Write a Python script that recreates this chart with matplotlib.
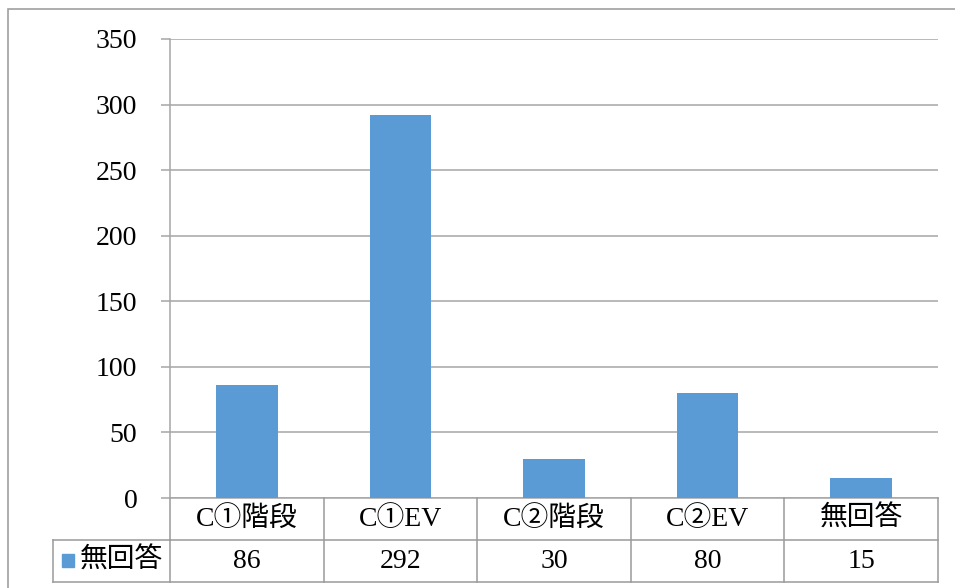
import matplotlib.pyplot as plt
import matplotlib.transforms as mtransforms
from matplotlib.patches import Rectangle

categories = ["C①階段", "C①EV", "C②階段", "C②EV", "無回答"]
values = [86, 292, 30, 80, 15]
series_name = "無回答"
yticks = [0, 50, 100, 150, 200, 250, 300, 350]

plt.rcParams['font.family'] = ['Liberation Serif', 'Noto Sans CJK JP', 'DejaVu Serif']

W, H = 955, 588
fig = plt.figure(figsize=(W / 100, H / 100), dpi=100)

# plot area in pixels: x 170..938, y 39..498
ax = fig.add_axes([170 / W, (H - 498) / H, 768 / W, 459 / H])

bar_color = '#5B9BD5'
grid_color = '#A6A6A6'
line_color = '#9A9A9A'
fs = 20

x = list(range(len(categories)))
ax.bar(x, values, width=0.4, color=bar_color, zorder=3)

ax.set_xlim(-0.5, len(categories) - 0.5)
ax.set_ylim(0, 350)
ax.set_yticks(yticks)
ax.set_yticklabels([str(v) for v in yticks], fontsize=fs)
ax.set_xticks([])
ax.yaxis.grid(True, color=grid_color, linewidth=1.1, zorder=0)
ax.tick_params(axis='y', length=6.5, width=1.1, color=grid_color, pad=17)
for s in ['top', 'right', 'bottom']:
    ax.spines[s].set_visible(False)
ax.spines['left'].set_color(grid_color)
ax.spines['left'].set_linewidth(1.1)

# data table under the axis
trans = mtransforms.blended_transform_factory(ax.transData, ax.transAxes)
row_h = 42 / 459
x0, x1 = -0.5, len(categories) - 0.5
leg_left = -0.5 - (170 - 53) / 153.6
lw = 1.1
kw = dict(transform=trans, color=line_color, linewidth=lw, clip_on=False)

# horizontal lines
ax.plot([x0, x1], [-row_h, -row_h], **kw)
ax.plot([leg_left, x0], [-row_h, -row_h], **kw)
ax.plot([leg_left, x1], [-2 * row_h, -2 * row_h], **kw)
ax.plot([x0, x1], [0, 0], transform=trans, color=grid_color, linewidth=lw, clip_on=False)
# vertical lines
for i in range(len(categories) + 1):
    xv = i - 0.5
    ax.plot([xv, xv], [0, -2 * row_h], **kw)
ax.plot([leg_left, leg_left], [-row_h, -2 * row_h], **kw)

for i, (c, v) in enumerate(zip(categories, values)):
    ax.text(i, -row_h / 2, c, transform=trans, ha='center', va='center', fontsize=fs)
    ax.text(i, -1.5 * row_h, str(v), transform=trans, ha='center', va='center', fontsize=fs)

# legend key in table
fig.patches.append(Rectangle((62 / W, (H - 567) / H), 12 / W, 13 / H,
                             transform=fig.transFigure, color=bar_color))
fig.text(80 / W, (H - 561) / H, series_name, ha='left', va='center', fontsize=fs)

# outer chart border (cut off on the right and bottom)
fig.patches.append(Rectangle((8 / W, -0.05), 1.1, (H - 9) / H + 0.05,
                             transform=fig.transFigure, fill=False,
                             edgecolor='#A0A0A0', linewidth=1.2))

fig.savefig('out.png', dpi=100)
